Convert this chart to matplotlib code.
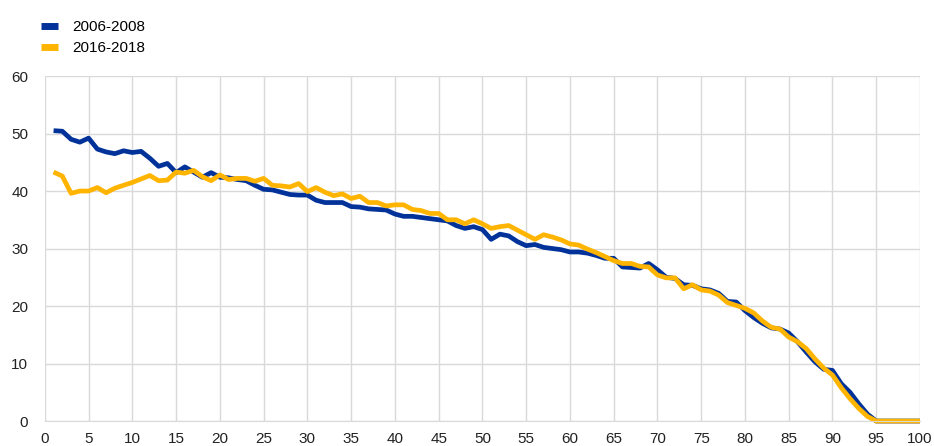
import matplotlib
matplotlib.use("Agg")
import matplotlib.pyplot as plt
import numpy as np

plt.rcParams['font.family'] = ['Liberation Sans', 'DejaVu Sans']

x = list(range(1, 101))
series_2006_2008 = [
    50.5, 50.4, 49.0, 48.5, 49.2, 47.3, 46.8, 46.5, 47.0, 46.7,
    46.9, 45.7, 44.3, 44.8, 43.2, 44.2, 43.3, 42.4, 43.2, 42.4,
    42.3, 42.0, 41.8, 41.0, 40.3, 40.2, 39.8, 39.4, 39.3, 39.3,
    38.4, 38.0, 38.0, 38.0, 37.3, 37.2, 36.9, 36.8, 36.7, 36.0,
    35.6, 35.6, 35.4, 35.2, 35.0, 34.8, 34.0, 33.5, 33.8, 33.3,
    31.6, 32.5, 32.2, 31.2, 30.5, 30.7, 30.2, 30.0, 29.8, 29.4,
    29.4, 29.2, 28.8, 28.3, 28.3, 26.8, 26.7, 26.6, 27.4, 26.3,
    25.0, 24.8, 23.7, 23.6, 23.0, 22.8, 22.2, 20.8, 20.7, 19.2,
    18.0, 17.0, 16.2, 16.0, 15.3, 13.8, 12.0, 10.3, 9.0, 8.8,
    6.5, 5.0, 3.0, 1.2, 0.0, 0.0, 0.0, 0.0, 0.0, 0.0,
]
series_2016_2018 = [
    43.3, 42.6, 39.6, 40.0, 40.0, 40.6, 39.7, 40.5, 41.0, 41.5,
    42.1, 42.7, 41.8, 41.9, 43.3, 43.1, 43.6, 42.5, 41.8, 42.8,
    42.0, 42.2, 42.2, 41.7, 42.2, 41.0, 40.9, 40.7, 41.3, 39.9,
    40.6, 39.8, 39.2, 39.5, 38.7, 39.1, 38.0, 38.0, 37.4, 37.6,
    37.6, 36.8, 36.6, 36.1, 36.1, 35.0, 35.0, 34.3, 35.0, 34.3,
    33.5, 33.8, 34.0, 33.2, 32.4, 31.6, 32.4, 32.0, 31.5, 30.8,
    30.6, 29.9, 29.3, 28.6, 27.9, 27.4, 27.4, 26.9, 26.8, 25.4,
    24.9, 24.9, 23.0, 23.7, 22.8, 22.6, 21.9, 20.6, 20.1, 19.6,
    18.8, 17.4, 16.3, 16.0, 14.6, 13.8, 12.6, 10.8, 9.2, 8.0,
    5.8, 3.9, 2.2, 0.8, 0.0, 0.0, 0.0, 0.0, 0.0, 0.0,
]
labels = ["2006-2008", "2016-2018"]
x_ticks = list(range(0, 101, 5))
y_ticks = list(range(0, 61, 10))

fig = plt.figure(figsize=(9.34, 4.46), dpi=100)
ax = fig.add_axes([0.048, 0.056, 0.937, 0.7735])

ax.plot(x, series_2006_2008, color="#003299", lw=3.4, label=labels[0],
        solid_joinstyle="round", solid_capstyle="butt", clip_on=False)
ax.plot(x, series_2016_2018, color="#FFB400", lw=3.4, label=labels[1],
        solid_joinstyle="round", solid_capstyle="butt", clip_on=False)

ax.set_xlim(0, 100)
ax.set_ylim(0, 60)
ax.set_xticks(x_ticks)
ax.set_yticks(y_ticks)
ax.grid(True, color="#d9d9d9", lw=1.0)
ax.set_axisbelow(True)
for s in ["top", "right", "left"]:
    ax.spines[s].set_visible(False)
ax.spines["bottom"].set_color("#d9d9d9")
ax.tick_params(length=0, labelsize=11, colors="#222222")
ax.tick_params(axis="x", pad=8)
ax.tick_params(axis="y", pad=12)

leg = ax.legend(loc="upper left", bbox_to_anchor=(-0.011, 1.18), frameon=False,
                fontsize=11, handlelength=1.1, handletextpad=0.9,
                labelspacing=0.45, borderaxespad=0)
for h in leg.get_lines():
    h.set_linewidth(5)

fig.savefig("out.png", dpi=100)
